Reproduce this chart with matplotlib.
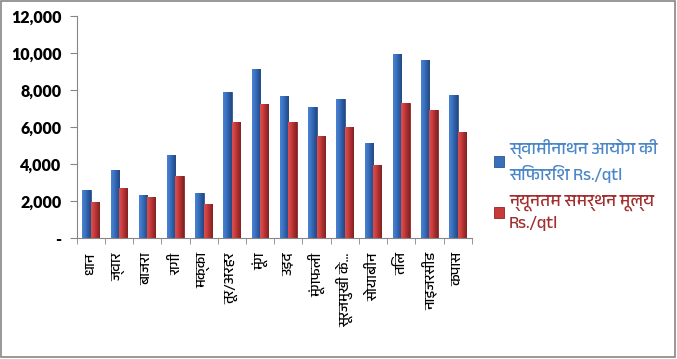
import numpy as np
import matplotlib
matplotlib.use("Agg")
import matplotlib.pyplot as plt
from matplotlib import font_manager
from matplotlib.colors import LinearSegmentedColormap
from matplotlib.patches import Rectangle

# crops (Hindi names as in the source chart)
crops = ["धान", "ज्वार", "बाजरा", "रागी", "मक्का", "तूर/अरहर", "मूंग", "उड़द",
         "मूंगफली", "सूरजमुखी के…", "सोयाबीन", "तिल", "नाइजरसीड", "कपास"]
# Swaminathan commission recommendation, Rs./qtl
swaminathan = [2600, 3680, 2340, 4510, 2450, 7910, 9150, 7700,
               7100, 7530, 5150, 9950, 9640, 7750]
# minimum support price, Rs./qtl
msp = [1940, 2738, 2250, 3377, 1870, 6300, 7275, 6300,
       5550, 6015, 3950, 7307, 6930, 5726]
legend_labels = ["स्वामीनाथन आयोग की\nसिफारिश Rs./qtl",
                 "न्यूनतम समर्थन मूल्य\nRs./qtl"]

# pick a font that has Devanagari glyphs
deva = None
for fe in font_manager.fontManager.ttflist:
    if "Devanagari" in fe.name and "UI" not in fe.name and fe.style == "normal":
        deva = fe.name
        break
if deva is None:
    for fe in font_manager.fontManager.ttflist:
        if "Devanagari" in fe.name:
            deva = fe.name
            break
hindi = [deva, "DejaVu Sans"] if deva else ["DejaVu Sans"]

fig = plt.figure(figsize=(6.77, 3.59), dpi=100)
ax = fig.add_axes([0.1131, 0.3362, 0.5839, 0.6184])

x = np.arange(len(crops))
w = 0.295
b1 = ax.bar(x - 0.15, swaminathan, w, color="#3A6FBE", edgecolor="#2A5493", linewidth=0.6, zorder=2)
b2 = ax.bar(x + 0.145, msp, w, color="#C83A3A", edgecolor="#8E2626", linewidth=0.6, zorder=2)

# cylinder-like shading on each bar
blue_cm = LinearSegmentedColormap.from_list("b", ["#4A82D0", "#3C74C4", "#2C5CA4", "#24497F"])
red_cm = LinearSegmentedColormap.from_list("r", ["#D85050", "#CC3E3E", "#A82E2E", "#7E2222"])
grad = np.linspace(0, 1, 32).reshape(1, -1)
for bars, cm in ((b1, blue_cm), (b2, red_cm)):
    for p in bars:
        x0, y0 = p.get_x(), p.get_y()
        im = ax.imshow(grad, cmap=cm, aspect="auto", zorder=2.5,
                       extent=(x0, x0 + p.get_width(), y0, y0 + p.get_height()))
        im.set_clip_path(p)

ax.set_xlim(-0.5, len(crops) - 0.5)
ax.set_ylim(0, 12000)
ax.set_yticks(range(0, 12001, 2000))
ax.set_yticklabels(["-" if v == 0 else f"{v:,}" for v in range(0, 12001, 2000)],
                   fontfamily="Lato", fontweight="heavy", fontsize=11.5)
ax.set_xticks(x)
ax.set_xticklabels(crops, rotation=90, fontfamily=hindi, fontsize=10.5, va="top")
ax.set_xticks(np.arange(len(crops) + 1) - 0.5, minor=True)
ax.tick_params(axis="x", which="major", length=0, pad=10)
ax.tick_params(axis="x", which="minor", length=4, color="#868686")
ax.tick_params(axis="y", length=5, color="#868686", pad=6)

for s in ("top", "right"):
    ax.spines[s].set_visible(False)
for s in ("left", "bottom"):
    ax.spines[s].set_color("#868686")

leg = fig.legend([b1, b2], legend_labels, loc="upper left", bbox_to_anchor=(0.706, 0.655),
                 frameon=False, prop={"family": hindi, "weight": "bold", "size": 12.5},
                 handlelength=0.6, handleheight=0.6, handletextpad=0.3, labelspacing=0.65)
for t, c in zip(leg.get_texts(), ["#4A86C8", "#A33030"]):
    t.set_color(c)
    t.set_linespacing(1.4)

fig.patches.append(Rectangle((0.002, 0.006), 0.995, 0.99, transform=fig.transFigure,
                             fill=False, edgecolor="#868686", linewidth=1.2))

fig.savefig("out.png", dpi=100)
